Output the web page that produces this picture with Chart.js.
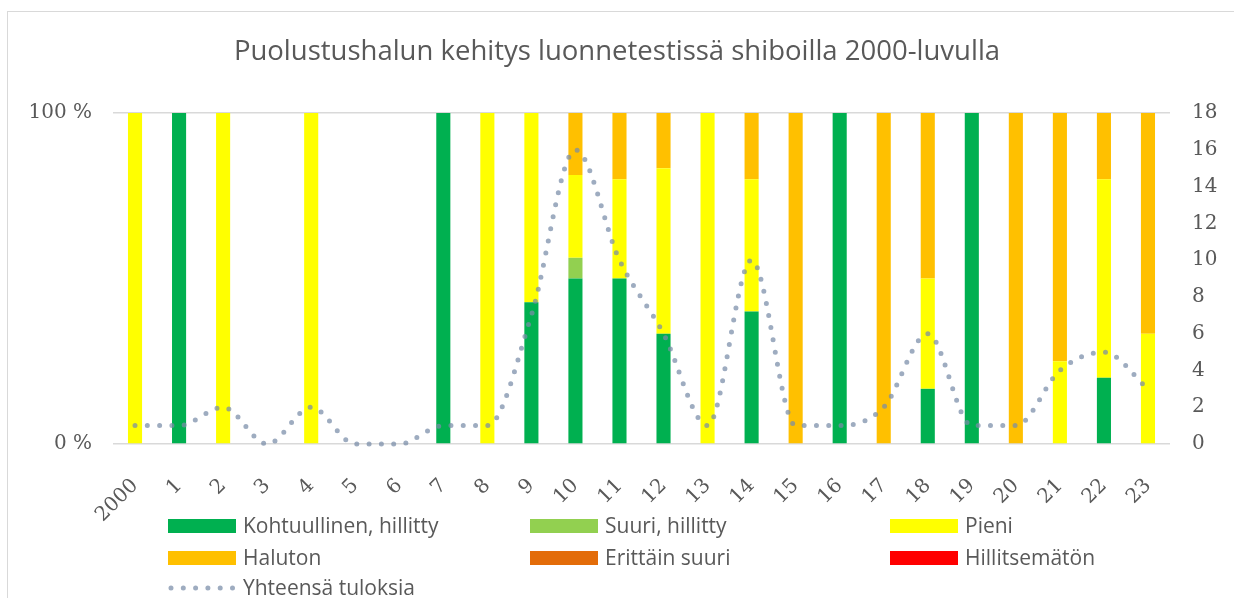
<!DOCTYPE html>
<html>
<head>
<meta charset="utf-8">
<script src="https://cdn.jsdelivr.net/npm/chart.js@4/dist/chart.umd.min.js"></script>
<style>
  html, body { margin: 0; padding: 0; background: #fff; }
  #wrap { position: relative; width: 1234px; height: 598px; overflow: hidden; }
  #frame { position: absolute; left: 7px; top: 11px; width: 1300px; height: 700px; border: 1px solid #D9D9D9; box-sizing: border-box; }
  canvas { position: absolute; left: 0; top: 0; }
  .lg { position: absolute; font-family: "Open Sans", sans-serif; font-size: 21px; color: #595959; white-space: nowrap; line-height: 24px; }
  .sw { position: absolute; width: 68px; height: 14px; }
</style>
</head>
<body>
<div id="wrap">
  <div id="frame"></div>
  <canvas id="c" width="1234" height="598"></canvas>
  <div id="legend"></div>
</div>
<script>
// ---- data ----
const years = ["2000","1","2","3","4","5","6","7","8","9","10","11","12","13","14","15","16","17","18","19","20","21","22","23"];
// number of results per category and year
const kohtuullinen  = [0,1,0,0,0,0,0,1,0,3,8,5,2,0,4,0,1,0,1,1,0,0,1,0];
const suuriHillitty = [0,0,0,0,0,0,0,0,0,0,1,0,0,0,0,0,0,0,0,0,0,0,0,0];
const pieni         = [1,0,2,0,2,0,0,0,1,4,4,3,3,1,4,0,0,0,2,0,0,1,3,1];
const haluton       = [0,0,0,0,0,0,0,0,0,0,3,2,1,0,2,1,0,2,3,0,1,3,1,2];
const erittainSuuri = [0,0,0,0,0,0,0,0,0,0,0,0,0,0,0,0,0,0,0,0,0,0,0,0];
const hillitsematon = [0,0,0,0,0,0,0,0,0,0,0,0,0,0,0,0,0,0,0,0,0,0,0,0];
const yhteensa      = [1,1,2,0,2,0,0,1,1,7,16,10,6,1,10,1,1,2,6,1,1,4,5,3];
const percentTicks  = [0, 100];
const countTicks    = [0,2,4,6,8,10,12,14,16,18];

// ---- chart ----
const PLOT_L = 113, PLOT_R = 1170, PLOT_B = 444;
const toPct = arr => arr.map((v, i) => yhteensa[i] ? v / yhteensa[i] * 100 : 0);

const barSeries = [
  { label: "Kohtuullinen, hillitty", data: kohtuullinen,  color: "#00B050" },
  { label: "Suuri, hillitty",        data: suuriHillitty, color: "#92D050" },
  { label: "Pieni",                  data: pieni,         color: "#FFFF00" },
  { label: "Haluton",                data: haluton,       color: "#FFC000" },
  { label: "Erittäin suuri",         data: erittainSuuri, color: "#E36C09" },
  { label: "Hillitsemätön",          data: hillitsematon, color: "#FF0000" }
];
const lineColor = "rgba(120,140,168,0.72)";

const datasets = [{
  type: "line",
  label: "Yhteensä tuloksia",
  data: yhteensa,
  yAxisID: "y1",
  borderColor: lineColor,
  borderWidth: 5,
  borderDash: [0, 12.3],
  borderCapStyle: "round",
  pointRadius: 0,
  cubicInterpolationMode: "monotone",
  fill: false,
  clip: false,
  order: 0
}].concat(barSeries.map(s => ({
  type: "bar",
  label: s.label,
  data: toPct(s.data),
  backgroundColor: s.color,
  borderWidth: 0,
  yAxisID: "y",
  stack: "s",
  categoryPercentage: 1,
  barPercentage: 0.32,
  order: 1
})));

const tickFont = { family: "DejaVu Serif", size: 20 };

new Chart(document.getElementById("c"), {
  data: { labels: years, datasets },
  options: {
    responsive: false,
    animation: false,
    events: [],
    layout: { padding: 0 },
    plugins: {
      legend: { display: false },
      tooltip: { enabled: false },
      title: {
        display: true,
        text: "Puolustushalun kehitys luonnetestissä shiboilla 2000-luvulla",
        color: "#595959",
        font: { family: "Open Sans", size: 27.5, weight: "normal", lineHeight: 1.2 },
        padding: { top: 36, bottom: 44 }
      }
    },
    scales: {
      x: {
        stacked: true,
        grid: { display: false },
        border: { display: false },
        ticks: { color: "#595959", font: tickFont, minRotation: 45, maxRotation: 45, autoSkip: false, padding: 22 },
        afterFit: s => { s.height = 598 - PLOT_B; }
      },
      y: {
        stacked: true,
        position: "left",
        min: 0, max: 100,
        afterBuildTicks: s => { s.ticks = percentTicks.map(v => ({ value: v })); },
        grid: { color: "#D9D9D9", lineWidth: 1.5, drawTicks: false },
        border: { display: false },
        ticks: { color: "#595959", font: tickFont, padding: 21, callback: v => v + " %" },
        afterFit: s => { s.width = PLOT_L; }
      },
      y1: {
        position: "right",
        min: 0, max: 18,
        afterBuildTicks: s => { s.ticks = countTicks.map(v => ({ value: v })); },
        grid: { display: false, drawTicks: false },
        border: { display: false },
        ticks: { color: "#595959", font: tickFont, padding: 22 },
        afterFit: s => { s.width = 1234 - PLOT_R; }
      }
    }
  }
});

// ---- legend (HTML, 3 columns) ----
const legendItems = barSeries.map(s => ({ label: s.label, color: s.color, line: false }))
  .concat([{ label: "Yhteensä tuloksia", color: lineColor, line: true }]);
const colX = [168, 530, 890];
const rowY = [526, 558, 588];
const lg = document.getElementById("legend");
legendItems.forEach((it, i) => {
  const cx = colX[i % 3], cy = rowY[Math.floor(i / 3)];
  if (it.line) {
    const cv = document.createElement("canvas");
    cv.width = 70; cv.height = 10;
    cv.style.left = cx + "px"; cv.style.top = (cy - 5) + "px";
    const g = cv.getContext("2d");
    g.strokeStyle = it.color; g.lineWidth = 5; g.lineCap = "round";
    g.setLineDash([0, 12.3]);
    g.beginPath(); g.moveTo(3, 5); g.lineTo(68, 5); g.stroke();
    lg.appendChild(cv);
  } else {
    const sw = document.createElement("div");
    sw.className = "sw";
    sw.style.left = cx + "px"; sw.style.top = (cy - 7) + "px";
    sw.style.background = it.color;
    lg.appendChild(sw);
  }
  const t = document.createElement("div");
  t.className = "lg";
  t.textContent = it.label;
  t.style.left = (cx + 75) + "px"; t.style.top = (cy - 13) + "px";
  lg.appendChild(t);
});
</script>
</body>
</html>
